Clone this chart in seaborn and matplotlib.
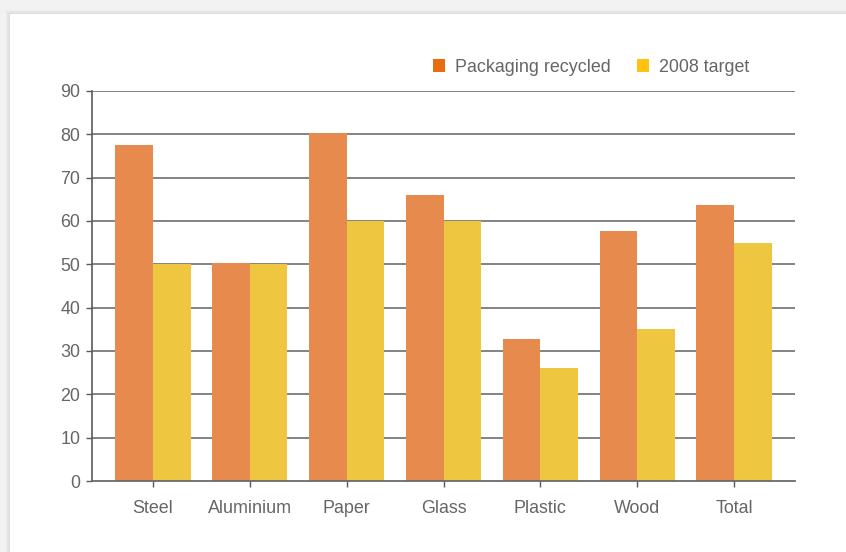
import matplotlib
matplotlib.use("Agg")
import matplotlib.pyplot as plt
from matplotlib.patches import Patch, Rectangle
import pandas as pd
import seaborn as sns

categories = ["Steel", "Aluminium", "Paper", "Glass", "Plastic", "Wood", "Total"]
recycled = [77.5, 50.2, 80.3, 66.0, 32.8, 57.7, 63.7]
target_2008 = [50, 50, 60, 60, 26, 35, 55]
series_names = ["Packaging recycled", "2008 target"]
y_ticks = [0, 10, 20, 30, 40, 50, 60, 70, 80, 90]

bar_colors = ["#E68B4D", "#EEC640"]
legend_colors = ["#EA6C12", "#FFC20E"]
text_color = "#666666"

df = pd.DataFrame({
    "category": categories * 2,
    "value": recycled + target_2008,
    "series": [series_names[0]] * len(categories) + [series_names[1]] * len(categories),
})

sns.set_theme(style="white")
plt.rcParams["font.family"] = ["Liberation Sans", "DejaVu Sans"]

fig = plt.figure(figsize=(8.46, 5.52), dpi=100)
fig.patch.set_facecolor("#f2f2f2")

# white card with a soft shadow, kept behind the axes
for i, a in enumerate([0.02, 0.03, 0.04]):
    off = (3 - i) * 1.5
    fig.patches.append(Rectangle(((10 - off) / 846, 0), 1, (552 - 14 + off) / 552,
                                 transform=fig.transFigure, facecolor="#000000",
                                 alpha=a, edgecolor="none", zorder=-10))
fig.patches.append(Rectangle((10 / 846, 0), 1, (552 - 14) / 552,
                             transform=fig.transFigure, facecolor="white",
                             edgecolor="none", zorder=-9))

ax = fig.add_axes([92 / 846, 1 - 481 / 552, (795 - 92) / 846, (481 - 91) / 552])
ax.set_facecolor("none")

sns.barplot(data=df, x="category", y="value", hue="series", order=categories,
            hue_order=series_names, palette=bar_colors, width=0.775,
            saturation=1, errorbar=None, ax=ax, zorder=3, legend=False,
            linewidth=0, edgecolor="none")

ax.set_xlim(-0.63, 6.63)
ax.set_ylim(0, 90)
ax.set_yticks(y_ticks)
ax.set_xlabel("")
ax.set_ylabel("")

for y in y_ticks[1:]:
    ax.axhline(y, color="#7a7a7a", linewidth=1.3, zorder=1)

for s in ["top", "right"]:
    ax.spines[s].set_visible(False)
ax.spines["left"].set_color("#5a5a5a")
ax.spines["left"].set_linewidth(1.2)
ax.spines["bottom"].set_color("#6a6a6a")
ax.spines["bottom"].set_linewidth(1.3)
ax.spines["left"].set_zorder(4)
ax.spines["bottom"].set_zorder(4)

ax.tick_params(axis="both", which="both", direction="out", length=4.5, width=1,
               color="#5a5a5a", labelsize=12.9, labelcolor=text_color,
               left=True, bottom=True)
ax.tick_params(axis="x", pad=9)
ax.tick_params(axis="y", pad=4)

handles = [Patch(facecolor=c, edgecolor="none") for c in legend_colors]
leg = fig.legend(handles, series_names, loc="center", bbox_to_anchor=(591 / 846, 1 - 67.5 / 552),
                 ncol=2, frameon=False, fontsize=12.9, handlelength=0.7, handleheight=0.7,
                 handletextpad=0.55, columnspacing=1.45, labelcolor=text_color)

fig.savefig("out.png", dpi=100, facecolor=fig.get_facecolor())
